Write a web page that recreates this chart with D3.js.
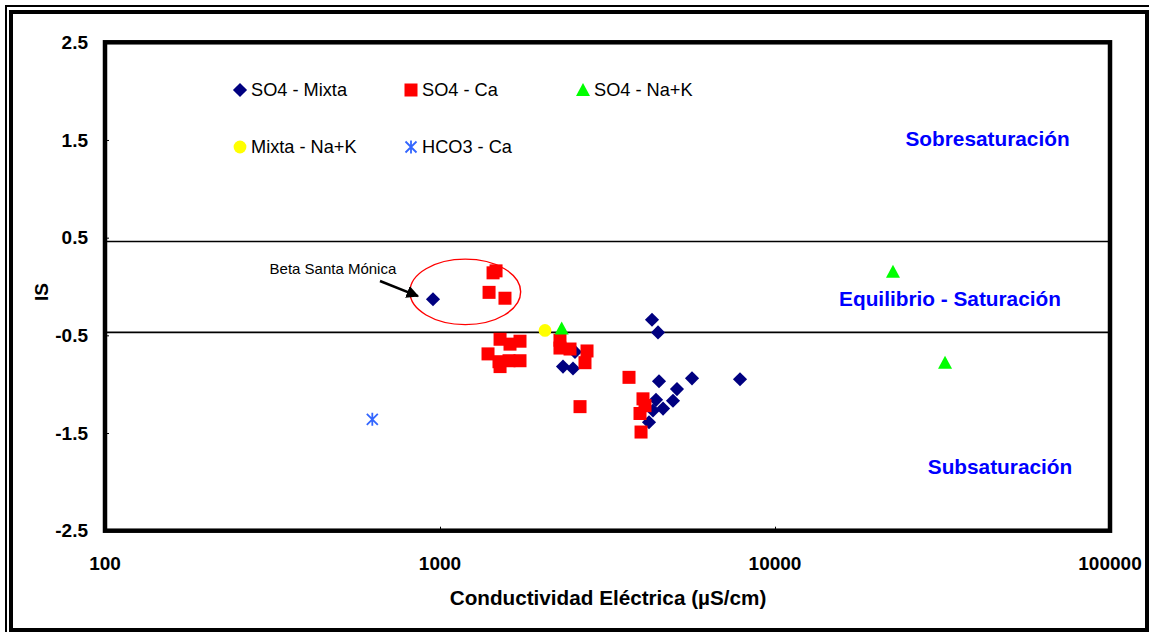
<!DOCTYPE html>
<html>
<head>
<meta charset="utf-8">
<script src="https://cdn.jsdelivr.net/npm/d3@7"></script>
<style>
  html, body { margin: 0; padding: 0; background: #fff; }
  svg { display: block; font-family: Arial, "Liberation Sans", sans-serif; }
</style>
</head>
<body>
<svg id="chart" width="1149" height="632"></svg>
<script>
// Conductividad eléctrica (µS/cm) vs índice de saturación (IS), por facies
const so4Mixta = [
  [953, -0.13], [2529, -0.67], [2329, -0.82], [2495, -0.84], [4294, -0.34],
  [4475, -0.47], [4506, -0.97], [5653, -0.94], [7862, -0.95], [5098, -1.05],
  [4960, -1.17], [4414, -1.16], [4633, -1.25], [4323, -1.27], [4206, -1.39]
];
const so4Ca = [
  [1440, 0.14], [1470, 0.16], [1401, -0.06], [1563, -0.12],
  [1511, -0.54], [1618, -0.59], [1733, -0.56], [1391, -0.69], [1500, -0.77],
  [1511, -0.82], [1607, -0.76], [1733, -0.76],
  [2281, -0.55], [2281, -0.63], [2444, -0.64], [2747, -0.66], [2709, -0.78],
  [3666, -0.93], [2618, -1.23], [4036, -1.15], [4092, -1.22], [3954, -1.30], [3982, -1.49]
];
const so4NaK = [[2308, -0.43], [22500, 0.15], [32180, -0.78]];
const mixtaNaK = [[2058, -0.45]];
const hco3Ca = [[628, -1.36]];

const seriesNames = ["SO4 - Mixta", "SO4 - Ca", "SO4 - Na+K", "Mixta - Na+K", "HCO3 - Ca"];
const xTicks = [100, 1000, 10000, 100000];
const yTicks = [2.5, 1.5, 0.5, -0.5, -1.5, -2.5];
const limits = [0.46, -0.47];   // límites de la franja de equilibrio
const zones = [
  { text: "Sobresaturación", ce: 43100, is: 1.51 },
  { text: "Equilibrio - Saturación", ce: 33300, is: -0.12 },
  { text: "Subsaturación", ce: 46950, is: -1.845 }
];
const highlight = { label: "Beta Santa Mónica", labelAt: [479, 0.18],
  arrowFrom: [662, 0.056], arrowTo: [859, -0.098],
  ellipseX: [813, 1741], ellipseY: [0.28, -0.39] };

const svg = d3.select("#chart");
const W = 1149, H = 632;
const plot = { left: 105, right: 1110, top: 42.3, bottom: 530.7 };

const x = d3.scaleLog().domain([100, 100000]).range([plot.left, plot.right]);
const y = d3.scaleLinear().domain([-2.5, 2.5]).range([plot.bottom, plot.top]);

// marco exterior doble
svg.append("rect").attr("x", 6).attr("y", 6).attr("width", W).attr("height", H)
  .attr("fill", "none").attr("stroke", "#000").attr("stroke-width", 2);
svg.append("rect").attr("x", 11).attr("y", 12).attr("width", 1136).attr("height", 618)
  .attr("fill", "none").attr("stroke", "#000").attr("stroke-width", 4);

// líneas de equilibrio
svg.append("g").selectAll("line").data(limits).join("line")
  .attr("x1", plot.left).attr("x2", plot.right)
  .attr("y1", d => y(d)).attr("y2", d => y(d))
  .attr("stroke", "#000").attr("stroke-width", 1.6);

// ejes con marcas hacia dentro
const yAxis = d3.axisRight(y).tickValues(yTicks).tickSize(4).tickFormat("");
svg.append("g").attr("transform", `translate(${plot.left},0)`).call(yAxis)
  .call(g => g.select(".domain").remove())
  .selectAll("line").attr("stroke", "#000").attr("stroke-width", 1);
const xAxis = d3.axisTop(x).tickValues(xTicks).tickSize(4).tickFormat("");
svg.append("g").attr("transform", `translate(0,${plot.bottom})`).call(xAxis)
  .call(g => g.select(".domain").remove())
  .selectAll("line").attr("stroke", "#000").attr("stroke-width", 1);

// etiquetas de los ejes
svg.append("g").selectAll("text").data(yTicks).join("text")
  .attr("x", 88).attr("y", d => y(d)).attr("dy", "0.35em")
  .attr("text-anchor", "end").attr("font-weight", "bold").attr("font-size", 19)
  .text(d => d.toFixed(1));
svg.append("g").selectAll("text").data(xTicks).join("text")
  .attr("x", d => x(d)).attr("y", 570)
  .attr("text-anchor", "middle").attr("font-weight", "bold").attr("font-size", 19)
  .text(d => d);
svg.append("text").attr("x", 608).attr("y", 605).attr("text-anchor", "middle")
  .attr("font-weight", "bold").attr("font-size", 20.7)
  .text("Conductividad Eléctrica (µS/cm)");
svg.append("text").attr("transform", `translate(48,292) rotate(-90)`)
  .attr("text-anchor", "middle").attr("font-weight", "bold").attr("font-size", 19)
  .text("IS");

// zonas
svg.append("g").selectAll("text").data(zones).join("text")
  .attr("x", d => x(d.ce)).attr("y", d => y(d.is)).attr("dy", "0.35em")
  .attr("text-anchor", "middle").attr("font-weight", "bold").attr("font-size", 20.8)
  .attr("fill", "#0000ff").text(d => d.text);

// símbolos
const sym = {
  diamond: g => g.append("path").attr("d", d3.symbol().type(d3.symbolSquare).size(10 * 10)())
    .attr("transform", "rotate(45)").attr("fill", "#000080"),
  square: g => g.append("rect").attr("x", -6.5).attr("y", -6.5).attr("width", 13).attr("height", 13)
    .attr("fill", "#ff0000"),
  triangle: g => g.append("path").attr("d", "M0,-7L7,6L-7,6Z").attr("fill", "#00ff00"),
  circle: g => g.append("circle").attr("r", 6.4).attr("fill", "#ffff00"),
  star: g => g.append("path").attr("d", "M0,-6.5V6.5M-5.5,-5.5L5.5,5.5M5.5,-5.5L-5.5,5.5")
    .attr("stroke", "#3366ff").attr("stroke-width", 1.8).attr("fill", "none")
};
const series = [
  { data: so4Mixta, shape: "diamond" },
  { data: so4Ca, shape: "square" },
  { data: so4NaK, shape: "triangle" },
  { data: mixtaNaK, shape: "circle" },
  { data: hco3Ca, shape: "star" }
];

series.forEach(s => {
  svg.append("g").selectAll("g").data(s.data).join("g")
    .attr("transform", d => `translate(${x(d[0])},${y(d[1])})`)
    .each(function () { sym[s.shape](d3.select(this)); });
});

// elipse y flecha de la muestra destacada
const ex0 = x(highlight.ellipseX[0]), ex1 = x(highlight.ellipseX[1]);
const ey0 = y(highlight.ellipseY[0]), ey1 = y(highlight.ellipseY[1]);
svg.append("ellipse")
  .attr("cx", (ex0 + ex1) / 2).attr("cy", (ey0 + ey1) / 2)
  .attr("rx", (ex1 - ex0) / 2).attr("ry", (ey1 - ey0) / 2)
  .attr("fill", "none").attr("stroke", "#ff0000").attr("stroke-width", 1.4);

svg.append("defs").append("marker").attr("id", "head")
  .attr("viewBox", "0 0 10 10").attr("refX", 9).attr("refY", 5)
  .attr("markerWidth", 5).attr("markerHeight", 5).attr("orient", "auto")
  .append("path").attr("d", "M0,0L10,5L0,10Z").attr("fill", "#000");
svg.append("line")
  .attr("x1", x(highlight.arrowFrom[0])).attr("y1", y(highlight.arrowFrom[1]))
  .attr("x2", x(highlight.arrowTo[0])).attr("y2", y(highlight.arrowTo[1]))
  .attr("stroke", "#000").attr("stroke-width", 2.5).attr("marker-end", "url(#head)");
svg.append("text")
  .attr("x", x(highlight.labelAt[0])).attr("y", y(highlight.labelAt[1])).attr("dy", "0.35em")
  .attr("text-anchor", "middle").attr("font-size", 15).text(highlight.label);

// leyenda
const legendPos = [[240, 90], [411, 90], [583, 90], [240, 147], [411, 147]];
const legend = svg.append("g");
series.forEach((s, i) => {
  const g = legend.append("g").attr("transform", `translate(${legendPos[i][0]},${legendPos[i][1]})`);
  sym[s.shape](g);
  g.append("text").attr("x", 11).attr("dy", "0.35em").attr("font-size", 18.2).text(seriesNames[i]);
});

// borde del área de trazado
svg.append("rect").attr("x", plot.left).attr("y", plot.top)
  .attr("width", plot.right - plot.left).attr("height", plot.bottom - plot.top)
  .attr("fill", "none").attr("stroke", "#000").attr("stroke-width", 4.5);
</script>
</body>
</html>
